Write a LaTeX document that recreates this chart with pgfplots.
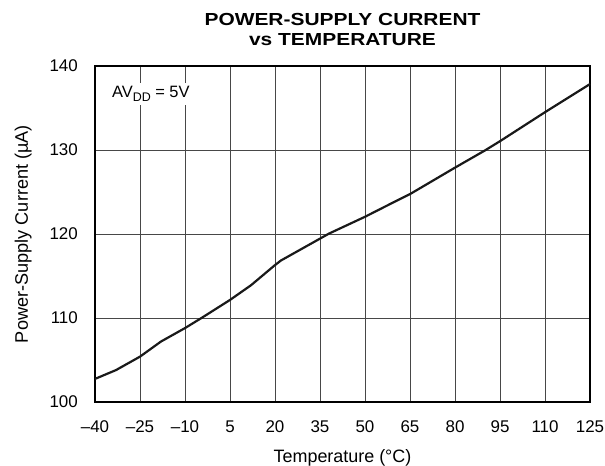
\documentclass[border=0pt]{standalone}
\usepackage{fontspec}
\setmainfont{Liberation Sans}
\newfontfamily\titlefont[FakeStretch=1.2]{Liberation Sans}
\usepackage{pgfplots}
\pgfplotsset{compat=1.18}
\begin{document}
\begin{tikzpicture}
\useasboundingbox (-95bp,-64bp) rectangle (510bp,402bp);
\begin{axis}[
  name=ax,
  at={(0,0)}, anchor=south west,
  scale only axis, width=495bp, height=336bp,
  xmin=-40, xmax=125, ymin=100, ymax=140,
  xtick={-40,-25,-10,5,20,35,50,65,80,95,110,125},
  xticklabels={–40,–25,–10,5,20,35,50,65,80,95,110,125},
  ytick={100,110,120,130,140},
  yticklabels={100,110,120,130,140},
  grid=major,
  major grid style={black!72, line width=0.85bp},
  major tick length=0pt,
  axis line style={line width=1.7bp},
  tick label style={font=\fontsize{17}{19}\selectfont, inner sep=0pt},
  xticklabel style={anchor=base, yshift=-30bp},
  yticklabel style={anchor=east, xshift=-17bp},
  clip=false,
]
\addplot[black!90, line width=2.2bp] coordinates {
(-40,102.75) (-33,103.8) (-25,105.4) (-18,107.2) (-10,108.8) (-4.5,110.0)
(5,112.15) (12,113.9) (20,116.3) (22,116.85) (35,119.45) (38,120.05)
(47,121.55) (50,122.05) (58,123.5) (65,124.75) (80,127.9) (90,129.95)
(95,131.05) (110,134.5) (125,137.85)
};
\node[anchor=base west, fill=white, inner sep=4bp, font=\fontsize{16.5}{18}\selectfont]
  at (rel axis cs:0.026,0.905) {AV\raisebox{-3.5bp}{\fontsize{12.5}{14}\selectfont DD} = 5V};
\end{axis}
\node[anchor=base, font=\titlefont\bfseries\fontsize{17.5}{19}\selectfont] at ([yshift=40bp]ax.north) {POWER-SUPPLY CURRENT};
\node[anchor=base, font=\titlefont\bfseries\fontsize{17.5}{19}\selectfont] at ([yshift=21bp]ax.north) {vs TEMPERATURE};
\node[anchor=base, font=\fontsize{18}{20}\selectfont] at ([yshift=-60bp]ax.south) {Temperature (°C)};
\node[anchor=base, rotate=90, font=\fontsize{18.2}{20}\selectfont] at ([xshift=-67bp]ax.west) {Power-Supply Current (µA)};
\end{tikzpicture}
\end{document}
